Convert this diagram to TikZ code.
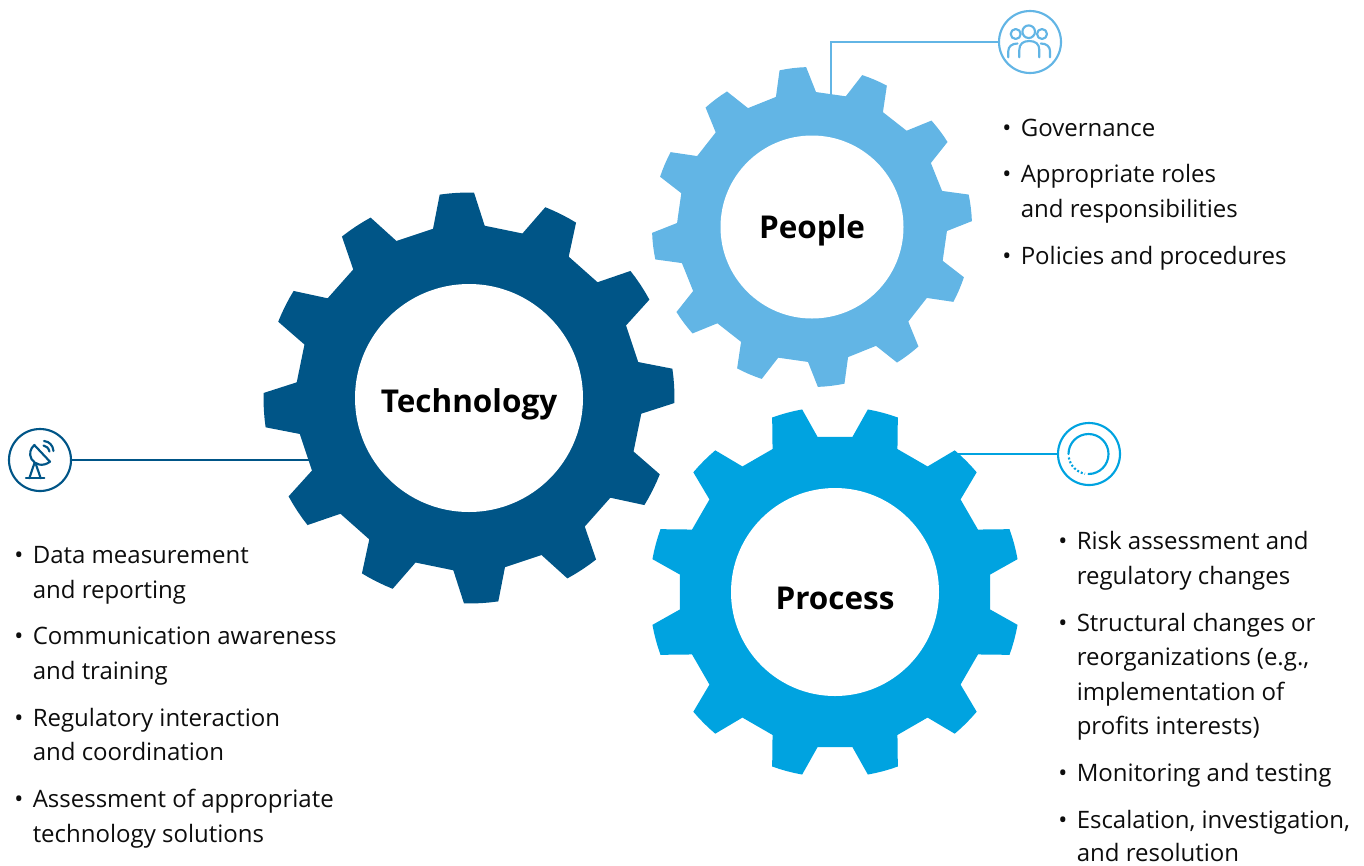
\documentclass[tikz,border=0pt]{standalone}
\usepackage{fontspec}
\setmainfont{Open Sans}
\definecolor{techblue}{HTML}{005587}
\definecolor{peopleblue}{HTML}{62B5E5}
\definecolor{procblue}{HTML}{00A3E0}
\tikzset{
  li/.style={anchor=base west,inner sep=0pt,font=\fontsize{18}{22}\selectfont,text=black!95},
  bul/.style={anchor=base west,inner sep=0pt,font=\fontsize{18}{22}\selectfont,text=black!95},
  gearlabel/.style={anchor=base,inner sep=0pt,font=\fontsize{23.6}{28}\bfseries\selectfont,text=black},
  hole/.style={circle,fill=white,inner sep=0pt,minimum size={#1*0.75pt}},
  iconring/.style={circle,draw=#1,fill=white,line width=1.6pt,inner sep=0pt,minimum size=46.5pt},
  conn/.style={draw=#1,line width=1.9pt},
  iconline/.style={draw=#1,line width=1.6pt,line cap=round,line join=round}
}
\newcommand{\gearshape}[7]{%
  \begin{scope}[shift={(#1,#2)}]
    \fill[#7] ({-(#3-8.6)}:#5)
      \foreach \k in {0,...,11}{
        -- ({-(#3+30*\k-8.6)}:#5)
        -- ({-(#3+30*\k-4.8)}:#4)
        -- ({-(#3+30*\k-2.4)}:#4)
        -- ({-(#3+30*\k)}:#4)
        -- ({-(#3+30*\k+2.4)}:#4)
        -- ({-(#3+30*\k+4.8)}:#4)
        -- ({-(#3+30*\k+8.6)}:#5)
      } -- cycle;
  \end{scope}}
\begin{document}
\begin{tikzpicture}[x=0.75pt,y=-0.75pt]
\useasboundingbox (0,0) rectangle (1364,865);
% connectors
\coordinate (techEnd) at (312,460);
\coordinate (peopleEnd) at (831,96);
\coordinate (procEnd) at (957,454);
\node[iconring=techblue] (techicon) at (40,460) {};
\node[iconring=peopleblue] (peopleicon) at (1030,42) {};
\node[iconring=procblue] (procicon) at (1089,454) {};
\draw[conn=techblue] (techicon.east) -- (techEnd);
\draw[conn=peopleblue] (peopleEnd) |- (peopleicon.west);
\draw[conn=procblue] (procEnd) -- (procicon.west);
% gears
\gearshape{469}{398}{93.4}{205.5}{173}{114}{techblue}
\gearshape{812}{227}{96.9}{160}{135}{91.5}{peopleblue}
\gearshape{835}{592}{105}{185.5}{156}{104}{procblue}
\node[hole=228] (techhole) at (469,398) {};
\node[hole=183] (peoplehole) at (812,227) {};
\node[hole=208] (prochole) at (835,592) {};
\node[gearlabel] (techlabel) at (469,412) {Technology};
\node[gearlabel] (peoplelabel) at (812,238) {People};
\node[gearlabel] (proclabel) at (835,609) {Process};
% people icon
\draw[iconline=peopleblue] (1028.7,31.7) circle (6.3);
\draw[iconline=peopleblue] (1015.7,34) circle (5);
\draw[iconline=peopleblue] (1042,34) circle (5);
\draw[iconline=peopleblue] (1019.3,57.3) -- (1019.3,50) .. controls (1019.3,44) and (1023,41) .. (1029.3,41) .. controls (1035.6,41) and (1039.3,44) .. (1039.3,50) -- (1039.3,57.3);
\draw[iconline=peopleblue] (1008.3,57.3) -- (1008.3,51) .. controls (1008.3,46.5) and (1012,43.5) .. (1017.5,43.5);
\draw[iconline=peopleblue] (1050,57.3) -- (1050,51) .. controls (1050,46.5) and (1046.3,43.5) .. (1040.8,43.5);
% dish icon
\draw[iconline=techblue] (26,478.3) -- (44.3,478.3);
\draw[iconline=techblue] (29.3,478.3) -- (34.3,463.5);
\draw[iconline=techblue] (40.7,478.3) -- (36,464.5);
\draw[iconline=techblue] (34.3,445) -- (50,461.7) .. controls (43,467) and (35,465) .. (31.5,459) .. controls (29,454) and (30,449) .. (34.3,445) -- cycle;
\draw[iconline=techblue] (43.5,445.5) .. controls (46.5,446) and (48.5,448) .. (49.5,451.5);
\draw[iconline=techblue] (44,441) .. controls (49.5,441.5) and (53,445.5) .. (53.5,451);
% process icon
\draw[iconline=procblue] (1068.5,454) arc[start angle=180,end angle=450,radius=20];
\draw[procblue,line width=1.6pt,dash pattern=on 1.5pt off 1.5pt] (1068.8,457.5) arc[start angle=170,end angle=100,radius=20];
% People list
\node[bul] (b1) at (1002,136) {•}; \node[li] (p1) at (1020.5,136) {Governance};
\node[bul] (b2) at (1002,182) {•}; \node[li] (p2) at (1020.5,182) {Appropriate roles};
\node[li] (p3) at (1020.5,217) {and responsibilities};
\node[bul] (b3) at (1002,264) {•}; \node[li] (p4) at (1020.5,264) {Policies and procedures};
% Technology list
\node[bul] (b4) at (14,563) {•}; \node[li] (t1) at (32.5,563) {Data measurement};
\node[li] (t2) at (32.5,598) {and reporting};
\node[bul] (b5) at (14,644) {•}; \node[li] (t3) at (32.5,644) {Communication awareness};
\node[li] (t4) at (32.5,679) {and training};
\node[bul] (b6) at (14,726) {•}; \node[li] (t5) at (32.5,726) {Regulatory interaction};
\node[li] (t6) at (32.5,760) {and coordination};
\node[bul] (b7) at (14,807) {•}; \node[li] (t7) at (32.5,807) {Assessment of appropriate};
\node[li] (t8) at (32.5,842) {technology solutions};
% Process list
\node[bul] (b8) at (1058,549) {•}; \node[li] (r1) at (1076.5,549) {Risk assessment and};
\node[li] (r2) at (1076.5,584) {regulatory changes};
\node[bul] (b9) at (1058,631) {•}; \node[li] (r3) at (1076.5,631) {Structural changes or};
\node[li] (r4) at (1076.5,665) {reorganizations (e.g.,};
\node[li] (r5) at (1076.5,700) {implementation of};
\node[li] (r6) at (1076.5,734) {profits interests)};
\node[bul] (b10) at (1058,781) {•}; \node[li] (r7) at (1076.5,781) {Monitoring and testing};
\node[bul] (b11) at (1058,828) {•}; \node[li] (r8) at (1076.5,828) {Escalation, investigation,};
\node[li] (r9) at (1076.5,861.5) {and resolution};
\end{tikzpicture}
\end{document}
